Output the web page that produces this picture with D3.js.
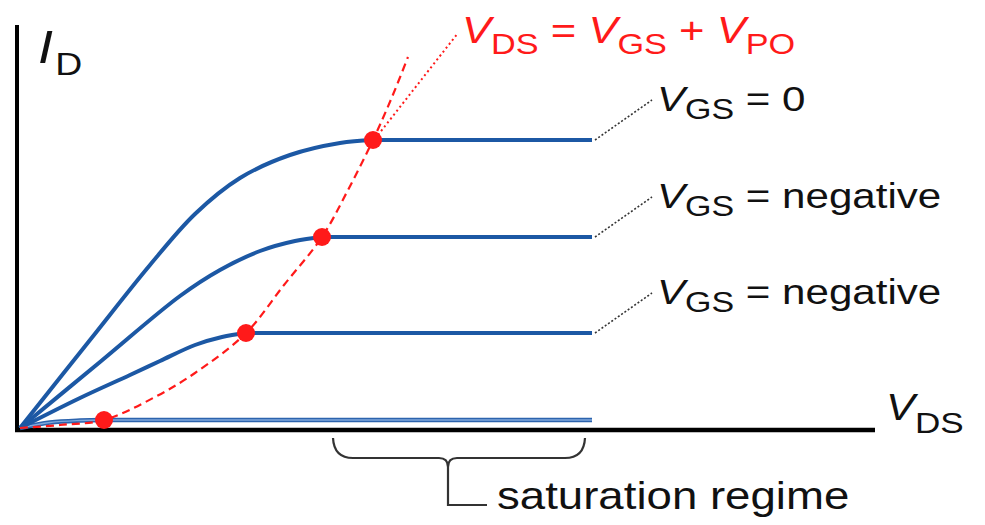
<!DOCTYPE html>
<html>
<head>
<meta charset="utf-8">
<script src="https://cdn.jsdelivr.net/npm/d3@7"></script>
<style>
  html, body { margin: 0; padding: 0; background: #fff; }
  svg { display: block; }
  text { font-family: "Liberation Sans", Arial, sans-serif; }
</style>
</head>
<body>
<svg id="chart" width="985" height="525"></svg>
<script>
// ---- data (arbitrary units: VDS along x, ID along y) ----
// rising (ohmic) part of each curve up to its pinch-off knee; saturation is flat to satEnd
const curveTop = [[0,0],[7,8.8],[13,16.3],[17.5,21.4],[22,25],[27,27.3],[32,28.5],[35.3,28.8]];
const curveSecond = [[0,0],[8,6.6],[16,13.2],[20,15.8],[24,17.7],[27.5,18.7],[30.2,19.1]];
const curveThird = [[0,0],[6,3],[11,5.3],[14,6.7],[17.5,8.3],[20.2,9.1],[22.6,9.5]];
const curveBottom = [[0,0],[3,0.55],[6,0.75],[8.4,0.8]];
const satEnd = 57.2;
const pinchLocus = [[0,0],[4,0.3],[8.4,0.8],[13.5,3.1],[17.5,5.5],[22.6,9.5],[26.4,14.3],[30.2,19.1],[32.8,23.8],[35.3,28.8],[37.2,33.1],[38.8,37.1]];
const pinchDots = [[8.4,0.8],[22.6,9.5],[30.2,19.1],[35.3,28.8]];
const locusLeader = [[35.8,29.3],[43.8,39.5]];
const labelLevels = [28.8, 19.1, 9.5];
const labelValues = ["0", "negative", "negative"];
const saturationRange = [31.3, 56.5];
const saturationTip = 42.8;
const axisMax = { x: 85.5, y: 40.3 };

// ---- scales ----
const svg = d3.select("#chart");
const x = d3.scaleLinear().domain([0, 86]).range([20, 880]);
const y = d3.scaleLinear().domain([0, 40.5]).range([428, 23]);

const blue = "#1c58a4";
const red = "#ff1a1a";
const stretch = 1.17;

// axes
svg.append("line")
  .attr("x1", x(0) - 3).attr("x2", x(0) - 3)
  .attr("y1", y(axisMax.y)).attr("y2", y(0) + 4)
  .attr("stroke", "#000").attr("stroke-width", 4);
svg.append("line")
  .attr("x1", x(0) - 5).attr("x2", x(axisMax.x))
  .attr("y1", y(0) + 2).attr("y2", y(0) + 2)
  .attr("stroke", "#000").attr("stroke-width", 4.5);

const smooth = d3.line().x(d => x(d[0])).y(d => y(d[1])).curve(d3.curveCatmullRom.alpha(0.5));
function ivPath(pts) {
  const last = pts[pts.length - 1];
  return smooth(pts) + "L" + x(satEnd) + "," + y(last[1]);
}

// bottom (light) curve
svg.append("path").attr("d", ivPath(curveBottom))
  .attr("fill", "none").attr("stroke", "#2c63ad").attr("stroke-width", 4.5);
svg.append("path").attr("d", ivPath(curveBottom))
  .attr("fill", "none").attr("stroke", "#7fa8dc").attr("stroke-width", 1.4);

// main curves
[curveTop, curveSecond, curveThird].forEach(c => {
  svg.append("path").attr("d", ivPath(c))
    .attr("fill", "none").attr("stroke", blue).attr("stroke-width", 4)
    .attr("stroke-linejoin", "round");
});

// pinch-off locus
svg.append("path").attr("d", smooth(pinchLocus))
  .attr("fill", "none").attr("stroke", red).attr("stroke-width", 2.2)
  .attr("stroke-dasharray", "8,5");
svg.append("path").attr("d", d3.line().x(d => x(d[0])).y(d => y(d[1]))(locusLeader))
  .attr("fill", "none").attr("stroke", red).attr("stroke-width", 2)
  .attr("stroke-dasharray", "2,3");

svg.selectAll("circle.dot").data(pinchDots).enter().append("circle")
  .attr("class", "dot")
  .attr("cx", d => x(d[0])).attr("cy", d => y(d[1])).attr("r", 9)
  .attr("fill", red);

// leaders and labels
labelLevels.forEach((lv, i) => {
  svg.append("line")
    .attr("x1", x(satEnd) + 3).attr("y1", y(lv))
    .attr("x2", x(satEnd) + 60).attr("y2", y(lv) - 40)
    .attr("stroke", "#333").attr("stroke-width", 1.6)
    .attr("stroke-dasharray", "2,2");
  const g = svg.append("g")
    .attr("transform", `translate(${x(satEnd) + 65},${y(lv) - 29}) scale(${stretch},1)`);
  const t = g.append("text").attr("font-size", 36).attr("fill", "#111");
  t.append("tspan").attr("font-style", "italic").text("V");
  t.append("tspan").attr("font-size", 29).attr("dy", 8).text("GS");
  t.append("tspan").attr("dy", -8).text(" = " + labelValues[i]);
});

// red title
{
  const g = svg.append("g").attr("transform", `translate(462,43) scale(1.18,1)`);
  const t = g.append("text").attr("font-size", 37).attr("fill", red);
  t.append("tspan").attr("font-style", "italic").text("V");
  t.append("tspan").attr("font-size", 29).attr("dy", 11).text("DS");
  t.append("tspan").attr("dy", -11).text(" = ");
  t.append("tspan").attr("font-style", "italic").text("V");
  t.append("tspan").attr("font-size", 29).attr("dy", 11).text("GS");
  t.append("tspan").attr("dy", -11).text(" + ");
  t.append("tspan").attr("font-style", "italic").text("V");
  t.append("tspan").attr("font-size", 29).attr("dy", 11).text("PO");
}

// axis labels
{
  const g = svg.append("g").attr("transform", `translate(38,63) scale(${stretch},1)`);
  const t = g.append("text").attr("font-size", 46).attr("fill", "#111");
  t.append("tspan").attr("font-style", "italic").text("I");
  t.append("tspan").attr("font-size", 32).attr("dy", 12).attr("dx", 2).text("D");
}
{
  const g = svg.append("g").attr("transform", `translate(886,420) scale(${stretch},1)`);
  const t = g.append("text").attr("font-size", 37).attr("fill", "#111");
  t.append("tspan").attr("font-style", "italic").text("V");
  t.append("tspan").attr("font-size", 30).attr("dy", 13).text("DS");
}

// saturation bracket
{
  const x0 = x(saturationRange[0]), x1 = x(saturationRange[1]);
  const xm = x(saturationTip);
  const yTop = y(0) + 10, yMid = y(0) + 30, yTip = y(0) + 39, yStem = y(0) + 77;
  const p = d3.path();
  p.moveTo(x0, yTop);
  p.quadraticCurveTo(x0 + 1, yMid, x0 + 20, yMid);
  p.lineTo(xm - 9, yMid);
  p.quadraticCurveTo(xm, yMid, xm, yTip);
  p.quadraticCurveTo(xm, yMid, xm + 9, yMid);
  p.lineTo(x1 - 20, yMid);
  p.quadraticCurveTo(x1 - 1, yMid, x1, yTop);
  p.moveTo(xm, yTip);
  p.lineTo(xm, yStem);
  p.lineTo(xm + 39, yStem);
  svg.append("path").attr("d", p.toString())
    .attr("fill", "none").attr("stroke", "#333").attr("stroke-width", 2.2);
  const g = svg.append("g").attr("transform", `translate(${xm + 49},${yStem + 4}) scale(1.2,1)`);
  g.append("text").attr("font-size", 38).attr("fill", "#111").text("saturation regime");
}
</script>
</body>
</html>
